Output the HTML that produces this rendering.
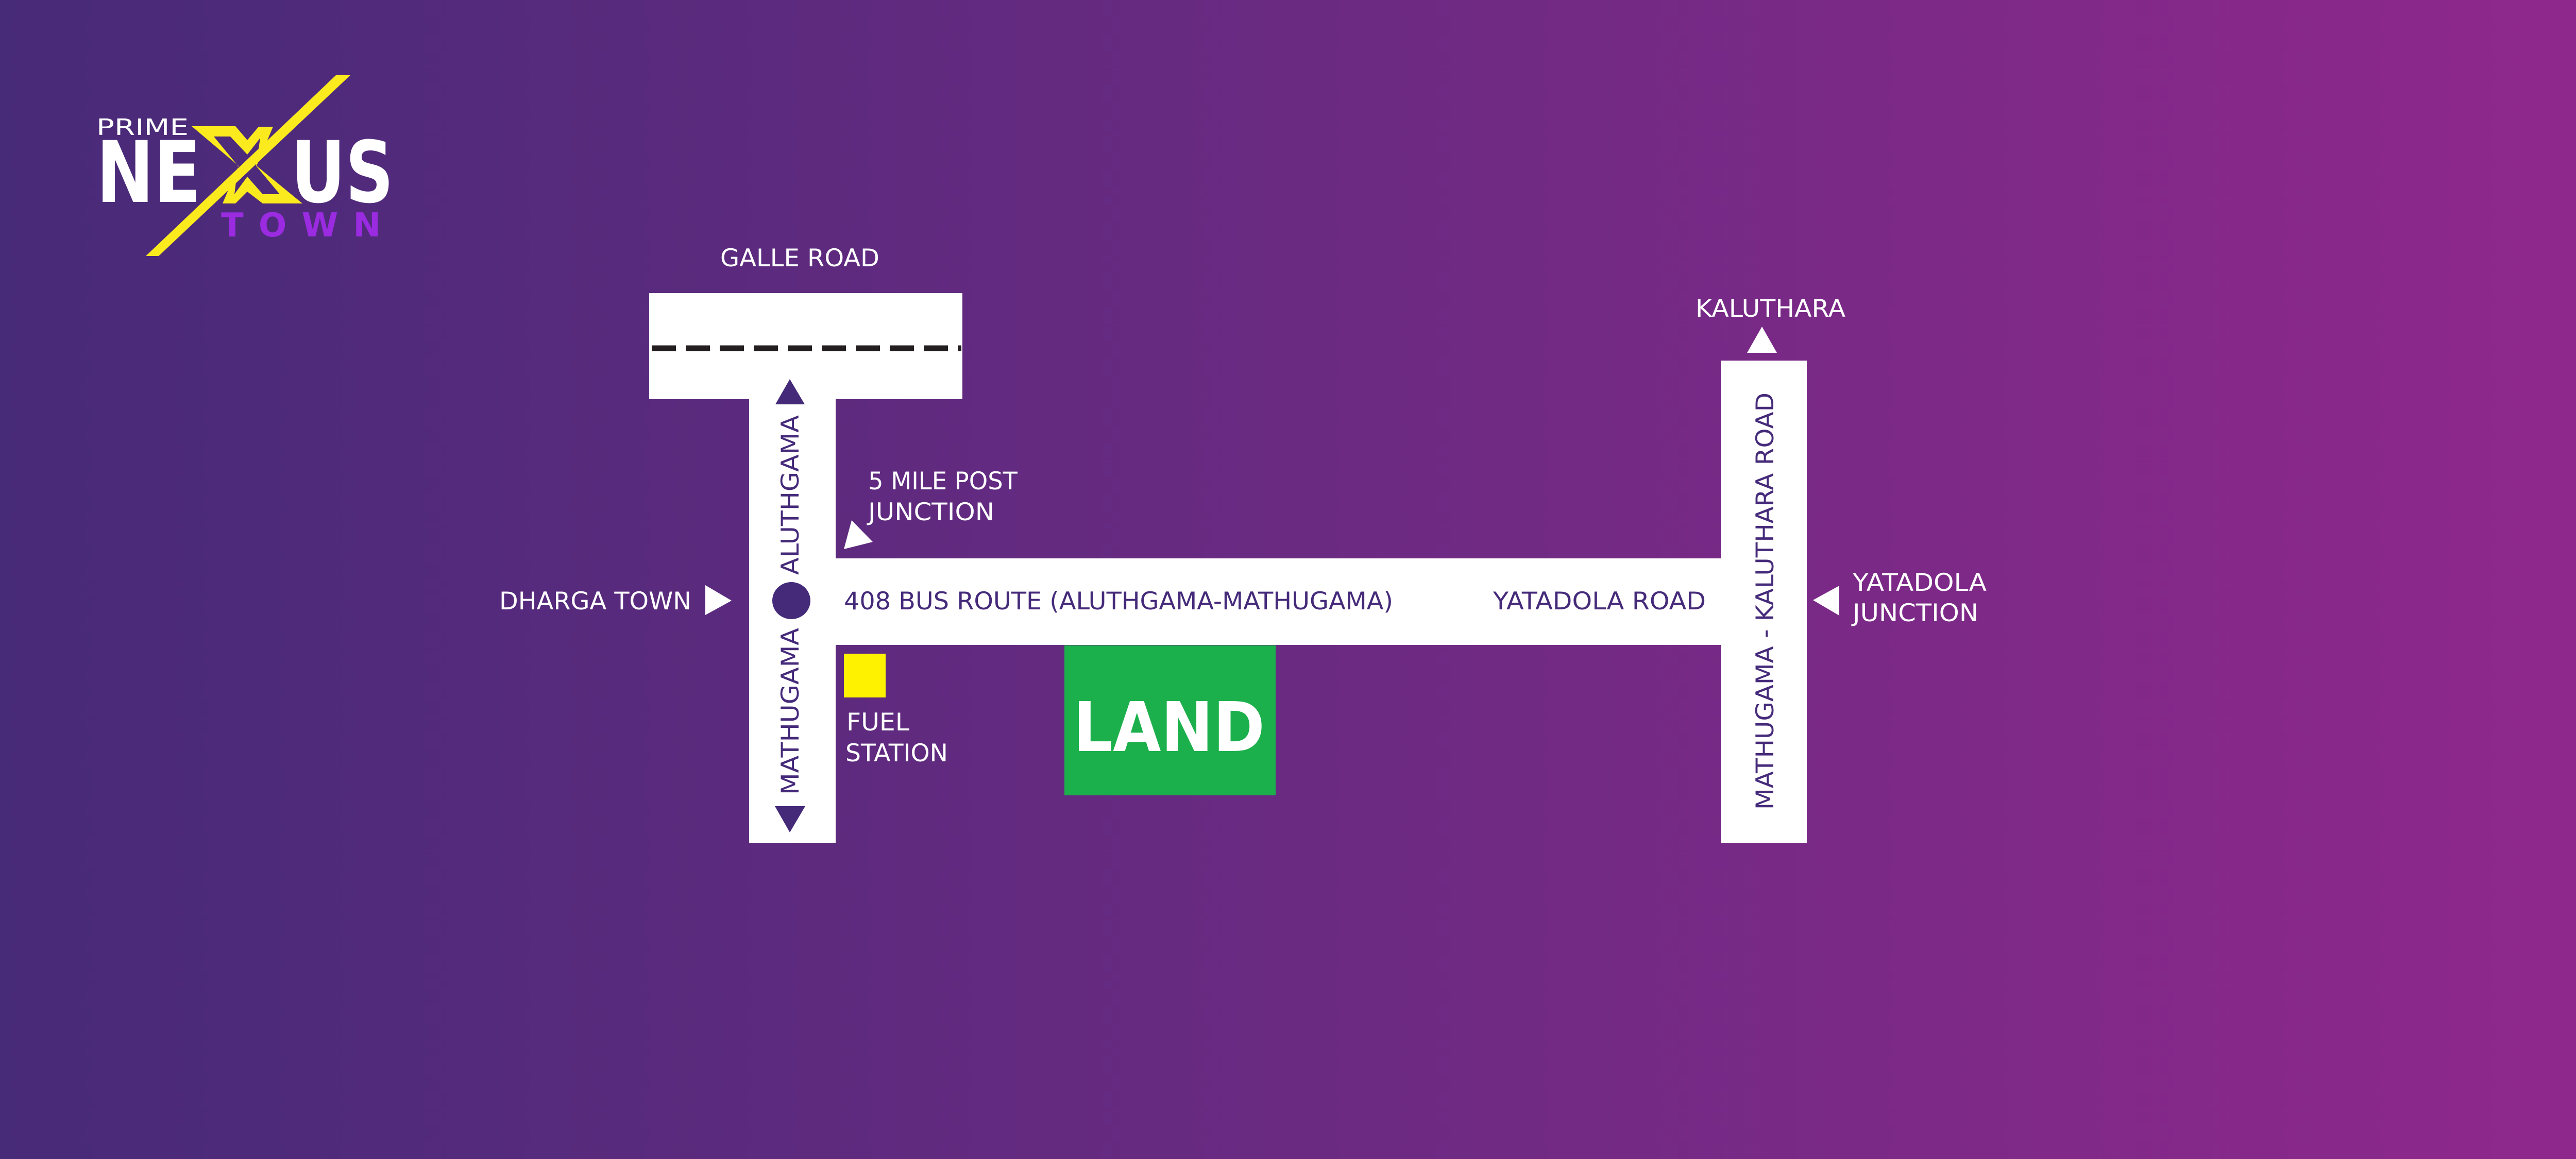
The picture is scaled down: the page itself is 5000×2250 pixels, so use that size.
<!DOCTYPE html>
<html><head><meta charset="utf-8"><style>
html,body{margin:0;padding:0;width:5000px;height:2250px;overflow:hidden}
svg{display:block}
text{font-family:"DejaVu Sans","Liberation Sans",sans-serif}
</style></head><body>
<svg width="5000" height="2250" viewBox="0 0 5000 2250" xmlns="http://www.w3.org/2000/svg">
<defs><linearGradient id="bg" x1="0" y1="0" x2="1" y2="0">
<stop offset="0" stop-color="#472a78"/><stop offset="0.5" stop-color="#6a2a82"/><stop offset="1" stop-color="#8f288d"/></linearGradient></defs>
<rect width="5000" height="2250" fill="url(#bg)"/>

<!-- Logo -->
<text x="187" y="262" font-family="Liberation Sans" font-size="44" fill="#fff" textLength="179" lengthAdjust="spacingAndGlyphs">PRIME</text>
<text x="187" y="392" font-family="Liberation Sans" font-weight="bold" font-size="165" fill="#fff" textLength="203" lengthAdjust="spacingAndGlyphs">NE</text>
<text x="565" y="392" font-family="Liberation Sans" font-weight="bold" font-size="165" fill="#fff" textLength="199" lengthAdjust="spacingAndGlyphs">US</text>
<path fill="#fbea1e" fill-rule="evenodd" d="M372,245 L457,245 L480,272 L502,246 L530,246 L498,322 L587,395 L510,395 L480,372 L457,395 L432,395 L463,322 Z M415,265 L447,265 L480,300 L505,268 L497,322 L543,377 L510,377 L480,343 L455,377 L462,322 Z"/>
<polygon points="652,146 680,146 308,497 283,497" fill="#fbea1e"/>
<text x="429" y="459" font-family="Liberation Sans" font-weight="bold" font-size="64" fill="#9a2be0" textLength="310" lengthAdjust="spacing">TOWN</text>

<!-- Roads -->
<rect x="1260" y="569" width="608" height="206" fill="#fff"/>
<line x1="1265" y1="676" x2="1866" y2="676" stroke="#231f20" stroke-width="11" stroke-dasharray="47,19"/>
<rect x="1454" y="770" width="168" height="867" fill="#fff"/>
<rect x="1454" y="1084" width="2053" height="168" fill="#fff"/>
<rect x="3340" y="700" width="167" height="937" fill="#fff"/>
<rect x="2066" y="1253" width="410" height="291" fill="#1bb04c"/>
<text x="2083" y="1458" font-family="Liberation Sans" font-weight="bold" font-size="133" fill="#fff" textLength="372" lengthAdjust="spacingAndGlyphs">LAND</text>
<rect x="1638" y="1269" width="81" height="85" fill="#fff200"/>

<!-- Markers -->
<ellipse cx="1536" cy="1166" rx="37" ry="36" fill="#452a7a"/>
<polygon points="1533,736 1562,785 1505,785" fill="#452a7a"/>
<polygon points="1504,1565 1563,1565 1533,1616" fill="#452a7a"/>
<polygon points="1653,1010 1694,1052 1638,1066" fill="#fff"/>
<polygon points="1369,1136 1420,1166 1369,1194" fill="#fff"/>
<polygon points="3420,634 3449,685 3391,685" fill="#fff"/>
<polygon points="3519,1165 3570,1137 3570,1195" fill="#fff"/>

<!-- Labels white -->
<g fill="#fff" font-size="47">
<text x="1398" y="517" textLength="309" lengthAdjust="spacingAndGlyphs">GALLE ROAD</text>
<text x="969" y="1183" textLength="373" lengthAdjust="spacingAndGlyphs">DHARGA TOWN</text>
<text x="1685" y="950" textLength="290" lengthAdjust="spacingAndGlyphs">5 MILE POST</text>
<text x="1685" y="1010" textLength="245" lengthAdjust="spacingAndGlyphs">JUNCTION</text>
<text x="1643" y="1418" textLength="122" lengthAdjust="spacingAndGlyphs">FUEL</text>
<text x="1641" y="1478" textLength="199" lengthAdjust="spacingAndGlyphs">STATION</text>
<text x="3291" y="615" textLength="291" lengthAdjust="spacingAndGlyphs">KALUTHARA</text>
<text x="3596" y="1147" textLength="260" lengthAdjust="spacingAndGlyphs">YATADOLA</text>
<text x="3596" y="1206" textLength="244" lengthAdjust="spacingAndGlyphs">JUNCTION</text>
</g>
<!-- Labels purple -->
<g fill="#452a7a" font-size="47">
<text x="1638" y="1183" textLength="1066" lengthAdjust="spacingAndGlyphs">408 BUS ROUTE (ALUTHGAMA-MATHUGAMA)</text>
<text x="2898" y="1183" textLength="413" lengthAdjust="spacingAndGlyphs">YATADOLA ROAD</text>
<text transform="translate(1550,1116) rotate(-90)" textLength="310" lengthAdjust="spacingAndGlyphs">ALUTHGAMA</text>
<text transform="translate(1550,1543) rotate(-90)" textLength="324" lengthAdjust="spacingAndGlyphs">MATHUGAMA</text>
<text transform="translate(3442,1572) rotate(-90)" textLength="810" lengthAdjust="spacingAndGlyphs">MATHUGAMA - KALUTHARA ROAD</text>
</g>
</svg>
</body></html>
